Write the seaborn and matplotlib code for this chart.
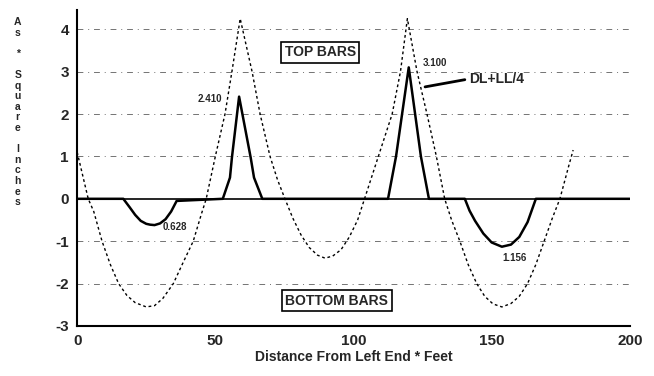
import matplotlib
matplotlib.use("Agg")
import matplotlib.pyplot as plt
import seaborn as sns
import pandas as pd

# Envelope (dotted) curve: distance (ft) and As (sq in)
env_x = [0, 2, 4, 6, 9, 12, 15, 18, 21, 25, 28, 31, 34.8, 38, 42, 45, 46.7, 50, 53.5, 56, 59,
         63.3, 66.2, 69.8, 72.5, 75.2, 78, 81, 84, 87, 89.7, 92.5, 95.5, 98.5, 101.5, 104,
         109, 114, 117, 119.5, 123, 126.6, 130, 133, 135.5, 138.5, 141.5, 144.6,
         147.5, 150.5, 153.7, 157, 160, 163, 166, 169, 172, 174.7, 178, 179.5]
env_y = [1.1, 0.55, 0.0, -0.3, -1.0, -1.55, -2.0, -2.28, -2.45, -2.55, -2.52, -2.35, -2.0, -1.55, -1.0, -0.35, 0.0, 1.0, 2.0, 3.0, 4.25,
         3.0, 2.0, 1.0, 0.45, 0.0, -0.45, -0.85, -1.15, -1.33, -1.4, -1.35, -1.2, -0.9, -0.5, 0.0,
         1.0, 2.0, 3.0, 4.25, 3.0, 2.0, 1.0, 0.0, -0.5, -1.0, -1.55, -2.0,
         -2.3, -2.48, -2.55, -2.47, -2.3, -2.0, -1.55, -1.0, -0.45, 0.0, 0.8, 1.15]

# DL+LL/4 (solid) curve
dl_x = [0, 16.7, 19, 21, 23, 25, 26.4, 28, 30, 32, 34, 36, 52.7, 55.3, 56, 58.6, 62.8, 64, 67,
        112.5, 115.4, 120, 124.4, 127.3, 140.3, 142, 144, 147, 150, 153.7, 157, 160, 163, 166, 200]
dl_y = [0, 0, -0.2, -0.38, -0.52, -0.59, -0.61, -0.62, -0.58, -0.48, -0.3, -0.05, 0, 0.5, 0.97, 2.41, 0.97, 0.5, 0,
        0, 1.0, 3.1, 1.0, 0, 0, -0.28, -0.52, -0.82, -1.03, -1.13, -1.08, -0.9, -0.55, 0, 0]

peak_labels = ["2.410", "3.100", "0.628", "1.156"]
peak_pos = [(52.5, 2.36), (125, 3.2), (31, -0.67), (154, -1.4)]

x_ticks = [0, 50, 100, 150, 200]
y_ticks = [-3, -2, -1, 0, 1, 2, 3, 4]

env = pd.DataFrame({"x": env_x, "y": env_y})
dl = pd.DataFrame({"x": dl_x, "y": dl_y})

sns.set_style("white")
plt.rcParams['font.family'] = ['Liberation Sans', 'DejaVu Sans']
plt.rcParams['font.weight'] = 'bold'

fig = plt.figure(figsize=(6.54, 3.76), dpi=100)
ax = fig.add_axes([0.118, 0.133, 0.845, 0.84])

for yv in [4, 3, 2, 1, -1, -2]:
    ax.axhline(yv, color="0.45", lw=0.7, ls=(0, (6, 5, 1, 5)), zorder=0)
ax.axhline(0, color="black", lw=1.2, zorder=1)

sns.lineplot(data=env, x="x", y="y", ax=ax, color="black", lw=1.0,
             linestyle=(0, (2, 2)), sort=False, estimator=None)
sns.lineplot(data=dl, x="x", y="y", ax=ax, color="black", lw=1.8,
             sort=False, estimator=None)

for lab, (px, py) in zip(peak_labels, peak_pos):
    ha = "right" if lab == "2.410" else "left"
    ax.text(px, py, lab, fontsize=7, fontweight="bold", ha=ha, va="center")

ax.text(88, 3.46, "TOP BARS", fontsize=10, fontweight="bold", ha="center", va="center",
        bbox=dict(boxstyle="square,pad=0.25", fc="white", ec="black", lw=1.2))
ax.text(94, -2.4, "BOTTOM BARS", fontsize=10, fontweight="bold", ha="center", va="center",
        bbox=dict(boxstyle="square,pad=0.25", fc="white", ec="black", lw=1.2))
ax.text(142, 2.83, "DL+LL/4", fontsize=10, fontweight="bold", ha="left", va="center")
ax.plot([140.3, 125.9], [2.81, 2.64], color="black", lw=2.0)

ax.set_xlim(0, 200)
ax.set_ylim(-3, 4.45)
ax.set_xticks(x_ticks)
ax.set_yticks(y_ticks)
ax.set_xticklabels([str(v) for v in x_ticks], fontsize=11, fontweight="bold")
ax.set_yticklabels([str(v) for v in y_ticks], fontsize=11, fontweight="bold")
ax.tick_params(direction="in", length=6, width=1.2, pad=6)
for s in ["top", "right"]:
    ax.spines[s].set_visible(False)
for s in ["left", "bottom"]:
    ax.spines[s].set_linewidth(1.5)
    ax.spines[s].set_color("black")
ax.set_xlabel("Distance From Left End * Feet", fontsize=10, fontweight="bold", labelpad=1)
ax.set_ylabel("")

chars = list("As") + [""] + ["*"] + [""] + list("Square") + [""] + list("Inches")
for i, ch in enumerate(chars):
    if ch:
        fig.text(0.027, 1 - (22 + i * 10.6) / 376, ch, fontsize=7.5, fontweight="bold",
                 ha="center", va="center")

fig.savefig("out.png", dpi=100)
